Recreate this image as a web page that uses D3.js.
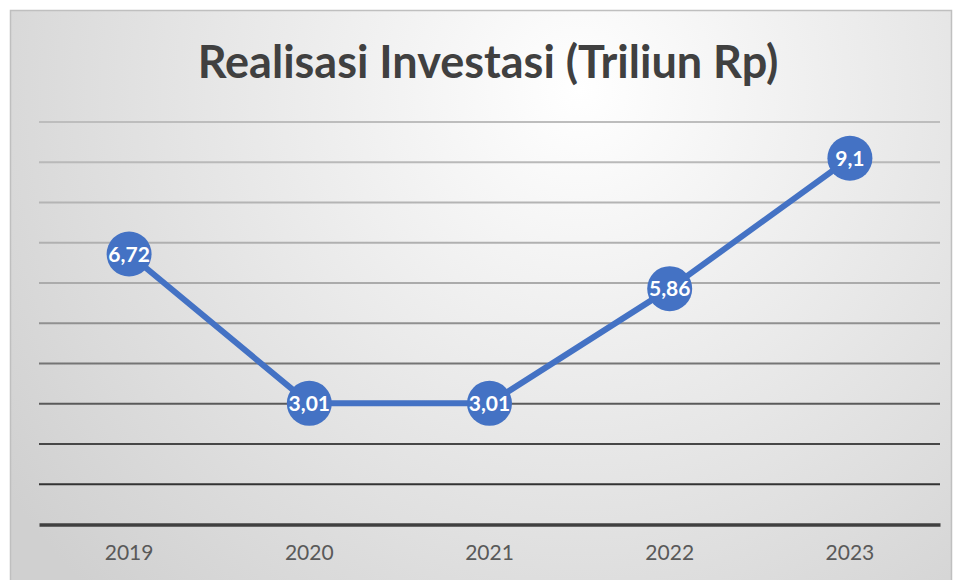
<!DOCTYPE html>
<html>
<head>
<meta charset="utf-8">
<script src="https://cdn.jsdelivr.net/npm/d3@7"></script>
<style>
  body { margin: 0; background: #fff; }
  #chart { width: 957px; height: 580px; }
</style>
</head>
<body>
<div id="chart"></div>
<script>
// DATA
const years = ["2019", "2020", "2021", "2022", "2023"];
const investasi = [6.72, 3.01, 3.01, 5.86, 9.1];
const yTicks = [0, 1, 2, 3, 4, 5, 6, 7, 8, 9, 10];
const labels = ["6,72", "3,01", "3,01", "5,86", "9,1"];

const W = 957, H = 580;
const margin = {top: 122, right: 17, bottom: 56, left: 39};

const data = years.map((y, i) => ({year: y, value: investasi[i], label: labels[i]}));

const svg = d3.select('#chart')
    .append("svg")
    .attr("width", W)
    .attr("height", H);

// background gradient
const defs = svg.append("defs");
const grad = defs.append("radialGradient")
    .attr("id", "bg")
    .attr("gradientUnits", "userSpaceOnUse")
    .attr("cx", 580).attr("cy", 90).attr("r", 700);
grad.append("stop").attr("offset", "0%").attr("stop-color", "#ffffff");
grad.append("stop").attr("offset", "100%").attr("stop-color", "#d0d0d0");

svg.append("rect")
    .attr("x", 10.5).attr("y", 10.5)
    .attr("width", 941).attr("height", 580)
    .attr("fill", "url(#bg)")
    .attr("stroke", "#bfbfbf")
    .attr("stroke-width", 1.5);

// SCALES
const xScale = d3.scaleBand()
    .domain(years)
    .range([margin.left, W - margin.right])
    .padding(0);

const yScale = d3.scaleLinear()
    .domain([0, 10])
    .range([524.5, margin.top]);

// gridlines, lighter at top, darker at bottom
const gridColor = d3.scaleLinear()
    .domain([0, 3, 6, 10])
    .range(["#202020", "#5a5a5a", "#ababab", "#bdbdbd"]);

svg.append("g")
    .selectAll("line")
    .data(yTicks.filter(t => t > 0))
    .join("line")
    .attr("x1", margin.left)
    .attr("x2", W - margin.right)
    .attr("y1", d => yScale(d))
    .attr("y2", d => yScale(d))
    .attr("stroke", d => gridColor(d))
    .attr("stroke-width", 2);

// x axis
const xAxis = d3.axisBottom(xScale).tickSize(0).tickPadding(21);
const xAxisGroup = svg.append("g")
    .attr("transform", `translate(0, ${yScale(0)})`)
    .call(xAxis);
xAxisGroup.select(".domain")
    .attr("stroke", "#404040")
    .attr("stroke-width", 3.5);
xAxisGroup.selectAll("text")
    .attr("fill", "#595959")
    .style("font-family", "Lato, 'Open Sans', sans-serif")
    .style("font-size", "21px");

// LINE
const line = d3.line()
    .x(d => xScale(d.year) + xScale.bandwidth() / 2)
    .y(d => yScale(d.value));

svg.append("path")
    .datum(data)
    .attr("fill", "none")
    .attr("stroke", "#4472c4")
    .attr("stroke-width", 6)
    .attr("stroke-linejoin", "round")
    .attr("d", line);

// markers
svg.append("g")
    .selectAll("circle")
    .data(data)
    .join("circle")
    .attr("cx", d => xScale(d.year) + xScale.bandwidth() / 2)
    .attr("cy", d => yScale(d.value))
    .attr("r", 22.5)
    .attr("fill", "#4472c4");

svg.append("g")
    .selectAll("text")
    .data(data)
    .join("text")
    .attr("x", d => xScale(d.year) + xScale.bandwidth() / 2)
    .attr("y", d => yScale(d.value))
    .attr("dy", "0.36em")
    .attr("text-anchor", "middle")
    .attr("fill", "white")
    .style("font-family", "Lato, 'Open Sans', sans-serif")
    .style("font-weight", "bold")
    .style("font-size", "21px")
    .text(d => d.label);

// Title
svg.append("text")
    .attr("x", 488)
    .attr("y", 78)
    .attr("text-anchor", "middle")
    .attr("fill", "#404040")
    .style("font-family", "Lato, 'Open Sans', sans-serif")
    .style("font-weight", "bold")
    .style("font-size", "45px")
    .text("Realisasi Investasi (Triliun Rp)");
</script>
</body>
</html>
